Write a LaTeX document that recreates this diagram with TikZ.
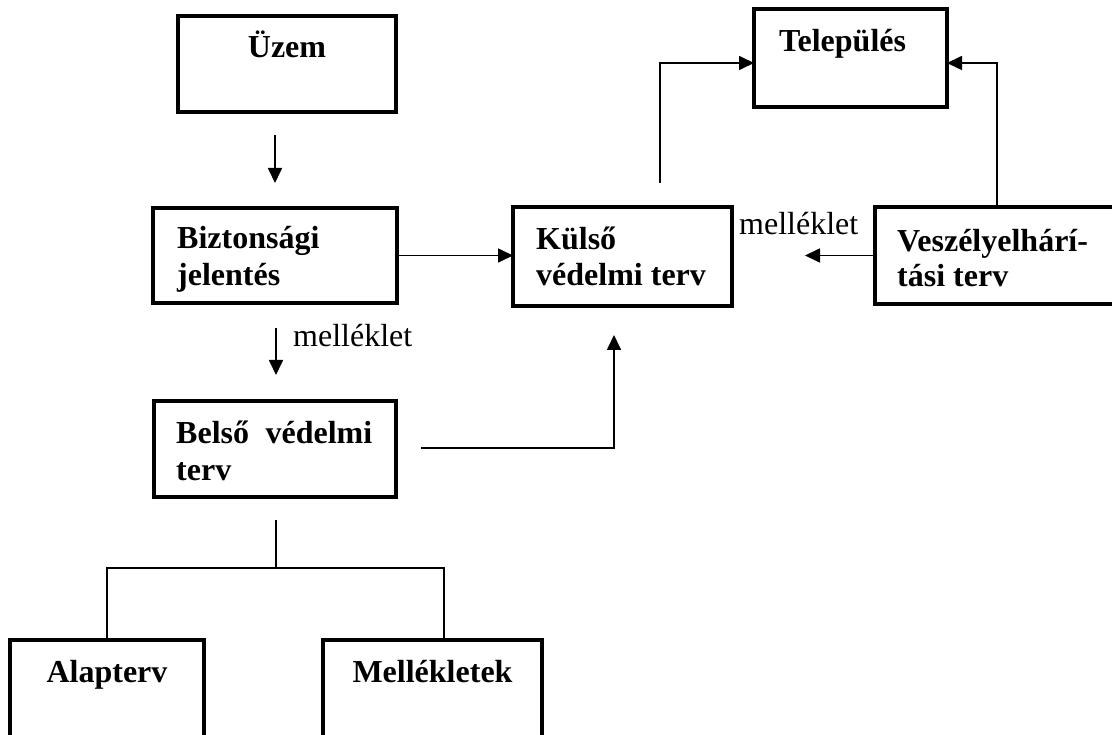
\documentclass[tikz,border=0pt]{standalone}
\usepackage{fontspec}
\setmainfont{Liberation Serif}
\usetikzlibrary{arrows.meta}
\tikzset{
  box/.style={draw, line width=3.8pt, rectangle, inner sep=0pt, outer sep=0pt},
  conn/.style={draw, line width=1.7pt},
  arr/.style={conn, -{Triangle[length=15pt,width=14pt]}},
  bt/.style={font=\fontsize{32}{37}\selectfont\bfseries, inner sep=0pt, anchor=base west},
  rt/.style={font=\fontsize{32}{37}\selectfont, inner sep=0pt, anchor=base west},
}
\begin{document}
\begin{tikzpicture}[x=1pt,y=-1pt]
\useasboundingbox (0,0) rectangle (1112,735);
\clip (0,0) rectangle (1112,735);
% boxes
\node[box, minimum width=218pt, minimum height=96pt] (uzem)  at (287,64) {};
\node[box, minimum width=193pt, minimum height=98pt] (telep) at (850.5,58) {};
\node[box, minimum width=244pt, minimum height=95pt] (bizt)  at (275,255.5) {};
\node[box, minimum width=219pt, minimum height=99pt] (kulso) at (622.5,256.5) {};
\node[box, minimum width=241pt, minimum height=97pt] (vesz)  at (995.5,255.5) {};
\node[box, minimum width=242pt, minimum height=96pt] (belso) at (275,449) {};
\node[box, minimum width=194pt, minimum height=110pt] (alap) at (107,695) {};
\node[box, minimum width=219pt, minimum height=110pt] (mell) at (432.5,695) {};
% texts
\node[bt, anchor=base] (tuzem) at (287,58) {Üzem};
\node[bt] (ttelep) at (779,52) {Település};
\node[bt] (tbizt1) at (177,249) {Biztonsági};
\node[bt] (tbizt2) at (177,286) {jelentés};
\node[bt] (tkulso1) at (536,250) {Külső};
\node[bt] (tkulso2) at (536,286) {védelmi terv};
\node[bt] (tvesz1) at (897,252) {Veszélyelhárí-};
\node[bt] (tvesz2) at (897,287) {tási terv};
\node[bt] (tbelso1) at (176,443) {\makebox[196pt][s]{Belső védelmi}};
\node[bt] (tbelso2) at (176,480) {terv};
\node[bt, anchor=base] (talap) at (107,682) {Alapterv};
\node[bt, anchor=base] (tmell) at (432.5,682) {Mellékletek};
\node[rt] (mel1) at (293,347) {melléklet};
\node[rt] (mel2) at (739,235) {melléklet};
% free connector ends
\coordinate (u1) at (275,135);
\coordinate (u2) at (275,183);
\coordinate (m1) at (276,328);
\coordinate (m2) at (276,375);
\coordinate (b1) at (421,448);
\coordinate (b2) at (614,448);
\coordinate (b3) at (614,335);
\coordinate (k1) at (660,183);
\coordinate (k2) at (660,63);
\coordinate (k3) at (754,63);
\coordinate (v1) at (997,207);
\coordinate (v2) at (997,63);
\coordinate (v3) at (947,63);
\coordinate (v4) at (805,255.5);
\coordinate (t0) at (276,520);
\coordinate (t1) at (276,568);
\coordinate (t2) at (107,568);
\coordinate (t3) at (444,568);
\coordinate (t4) at (444,640);
% connectors
\draw[arr] (u1) -- (u2);
\draw[arr] (bizt.east) -- (bizt.east -| kulso.west);
\draw[arr] (m1) -- (m2);
\draw[arr] (b1) -- (b2) -- (b3);
\draw[arr] (k1) -- (k2) -- (k3);
\draw[arr] (v1) -- (v2) -- (v3);
\draw[arr] (vesz.west) -- (v4);
\draw[conn] (t0) -- (t1);
\draw[conn] (alap.north) -- (t2) -- (t3) -- (t4);
\end{tikzpicture}
\end{document}
